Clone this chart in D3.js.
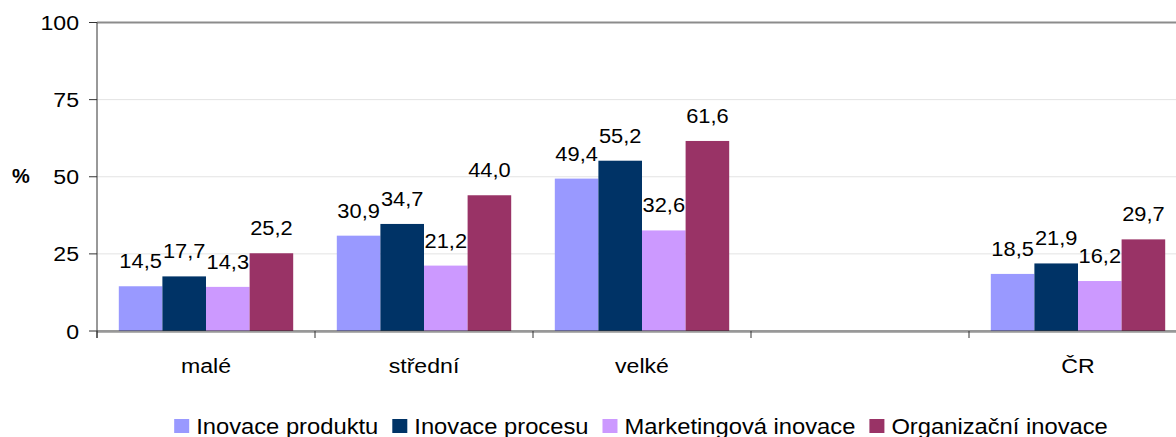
<!DOCTYPE html>
<html>
<head>
<meta charset="utf-8">
<script src="https://cdn.jsdelivr.net/npm/d3@7"></script>
<style>
  body { margin: 0; background: #fff; }
  svg text { font-family: "Liberation Sans", Arial, sans-serif; fill: #000; }
</style>
</head>
<body>
<svg id="chart" width="1176" height="437"></svg>
<script>
// Chart data
const categories = ["malé", "střední", "velké", "", "ČR"];
const seriesNames = ["Inovace produktu", "Inovace procesu", "Marketingová inovace", "Organizační inovace"];
const produkt = [14.5, 30.9, 49.4, null, 18.5];
const proces = [17.7, 34.7, 55.2, null, 21.9];
const marketing = [14.3, 21.2, 32.6, null, 16.2];
const organizacni = [25.2, 44.0, 61.6, null, 29.7];
const yTicks = [0, 25, 50, 75, 100];

const seriesValues = [produkt, proces, marketing, organizacni];
const COLORS = ["#9999ff", "#003366", "#cc99ff", "#993366"];
const STRETCH = 1.1; // text in the original is slightly wide

const svg = d3.select("#chart");

const x0 = d3.scaleBand()
    .domain(categories)
    .range([97, 1187]);

const x1 = d3.scaleBand()
    .domain(seriesNames)
    .range([x0.bandwidth() * 0.1, x0.bandwidth() * 0.9]);

const y = d3.scaleLinear()
    .domain([0, 100])
    .range([331, 22.5]);

function wideText(g, x, yPos, str, size, anchor, sx) {
    return g.append("text")
        .attr("transform", `translate(${x},${yPos}) scale(${sx || STRETCH},1)`)
        .attr("text-anchor", anchor || "middle")
        .style("font-size", size + "px")
        .text(str);
}

// gridlines
svg.append("g").selectAll("line")
    .data(yTicks.filter(d => d > 0))
    .enter()
    .append("line")
    .attr("x1", 97).attr("x2", 1176)
    .attr("y1", d => y(d)).attr("y2", d => y(d))
    .attr("stroke", d => d === 100 ? "#8c8c8c" : "#e3e3e3")
    .attr("stroke-width", d => d === 100 ? 2 : 1);

// bars
const groups = svg.append("g").selectAll("g")
    .data(categories.map((c, i) => ({ cat: c, i: i })))
    .enter()
    .append("g")
    .attr("transform", d => `translate(${x0(d.cat)},0)`);

groups.selectAll("rect")
    .data(d => seriesNames.map((s, k) => ({ s: s, k: k, v: seriesValues[k][d.i] })).filter(e => e.v != null))
    .enter()
    .append("rect")
    .attr("x", e => x1(e.s))
    .attr("width", x1.bandwidth())
    .attr("y", e => y(e.v))
    .attr("height", e => y(0) - y(e.v))
    .attr("fill", e => COLORS[e.k]);

// value labels
groups.each(function(d) {
    const g = d3.select(this);
    seriesNames.forEach((s, k) => {
        const v = seriesValues[k][d.i];
        if (v == null) return;
        wideText(g, x1(s) + x1.bandwidth() / 2, y(v) - 18, v.toFixed(1).replace(".", ","), 19.5, "middle", 1.12);
    });
});

// x axis
svg.append("line")
    .attr("x1", 97).attr("x2", 1176)
    .attr("y1", y(0) + 1.5).attr("y2", y(0) + 1.5)
    .attr("stroke", "#b0b0b0");
svg.append("line")
    .attr("x1", 97).attr("x2", 1176)
    .attr("y1", y(0)).attr("y2", y(0))
    .attr("stroke", "#333");
svg.append("g").selectAll("line")
    .data(categories)
    .enter()
    .append("line")
    .attr("x1", d => x0(d)).attr("x2", d => x0(d))
    .attr("y1", y(0)).attr("y2", y(0) + 7)
    .attr("stroke", "#333");
categories.forEach(c => {
    if (c) wideText(svg, x0(c) + x0.bandwidth() / 2, 373, c, 21);
});

// y axis
svg.append("line")
    .attr("x1", 97).attr("x2", 97)
    .attr("y1", y(100)).attr("y2", y(0) + 7)
    .attr("stroke", "#333");
yTicks.forEach(t => {
    svg.append("line")
        .attr("x1", 89).attr("x2", 97)
        .attr("y1", y(t)).attr("y2", y(t))
        .attr("stroke", "#333");
    wideText(svg, 79, y(t) + 7.5, String(t), 21, "end");
});

svg.append("text")
    .attr("x", 21).attr("y", 183)
    .attr("text-anchor", "middle")
    .style("font-size", "20px")
    .style("font-weight", "bold")
    .text("%");

// legend
const legend = svg.append("g");
let lx = 0;
seriesNames.forEach((s, k) => {
    legend.append("rect")
        .attr("x", lx).attr("y", 419)
        .attr("width", 15).attr("height", 14)
        .attr("fill", COLORS[k]);
    const t = wideText(legend, lx + 22, 434, s, 22, "start", 1.08);
    lx += 22 + t.node().getComputedTextLength() * 1.08 + 14;
});
const legendWidth = lx - 14;
legend.attr("transform", `translate(${641 - legendWidth / 2},0)`);
</script>
</body>
</html>
